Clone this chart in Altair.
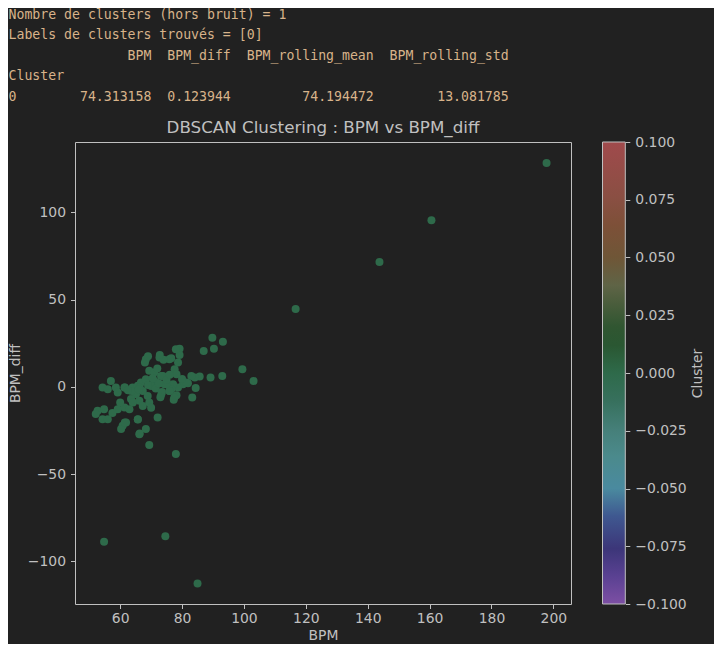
import altair as alt
import pandas as pd

# ---------------- data ----------------
CONSOLE_LINES = [
    "Nombre de clusters (hors bruit) = 1",
    "Labels de clusters trouvés = [0]",
    "               BPM  BPM_diff  BPM_rolling_mean  BPM_rolling_std",
    "Cluster",
    "0        74.313158  0.123944         74.194472        13.081785",
]

TITLE = "DBSCAN Clustering : BPM vs BPM_diff"

BPM = [
    197.8, 160.6, 143.8, 116.7, 74.6, 54.8, 85.0, 78.0,
    89.8, 93.2, 87.0, 90.3, 79.2, 79.2, 76.5, 78.7, 77.6, 78.2, 99.5, 103.1,
    93.0, 89.2, 85.7, 84.1, 83.0, 81.9, 80.3, 78.7, 77.1, 76.5, 84.4, 83.3,
    78.2, 77.3,
    54.3, 57.0, 56.0, 58.6, 59.2, 61.4, 64.0, 65.7, 66.7, 68.3, 67.3, 65.1,
    63.5, 66.2, 67.3, 69.4, 68.9, 68.3, 68.0, 72.7, 75.9, 78.0, 69.4, 71.0,
    73.2, 71.0, 74.3, 75.9, 77.5, 52.7, 52.1, 54.8, 54.3, 56.0, 59.2, 61.4,
    63.0, 65.7, 72.1, 60.8, 61.9, 60.3, 66.2, 68.3, 69.4,
    74.0, 72.8, 73.8, 74.9, 71.7, 61.5, 63.6, 66.3, 64.1, 73.3, 76.0, 81.4,
    65.7, 66.3, 61.5, 70.0, 71.5, 72.5, 73.5, 70.5, 72.0, 73.0, 69.0, 66.0,
    75.0, 76.0, 80.0, 62.5, 70.0, 69.0, 60.0, 57.5,
]
BPM_DIFF = [
    128.3, 95.6, 71.6, 44.7, -85.7, -88.8, -112.7, -38.5,
    28.2, 25.9, 20.6, 21.8, 21.9, 18.2, 16.4, 13.9, 10.1, 7.3, 10.1, 3.4,
    6.3, 5.3, 5.9, 5.3, 6.3, 2.1, 1.5, -0.4, 1.5, -1.3, -0.7, -6.1,
    -4.8, -7.4,
    -0.4, 3.4, -1.3, -0.4, -3.3, -0.4, -0.4, 0.6, 2.5, 4.4, -2.3, -4.2,
    -7.0, -8.0, -10.9, -9.0, -5.2, 15.9, 13.9, 16.8, 15.9, 21.6, 9.2, 8.2,
    6.3, 3.4, 1.5, -2.3, -6.1, -13.7, -15.6, -12.8, -18.5, -18.5, -12.8, -11.9,
    -12.8, -18.5, -17.6, -22.3, -20.4, -24.2, -27.1, -24.2, -33.4,
    15.5, 18.2, 6.3, 1.5, 2.5, -0.4, -2.3, -0.4, -9.0, -4.2, -2.3, 2.5,
    -18.7, -26.7, -20.4, 0.5, -1.0, 2.0, -3.0, 5.0, 10.5, -6.0, 1.0, -1.5,
    4.0, 7.0, 4.5, -2.0, -12.0, 17.5, -9.0, -15.0,
]
CLUSTER = [0] * len(BPM)

# colour map (colorbar from -0.1 to 0.1)
CBAR_MIN, CBAR_MAX = -0.1, 0.1
CBAR_TICKS = [-0.1, -0.075, -0.05, -0.025, 0.0, 0.025, 0.05, 0.075, 0.1]
CMAP_OFFSETS = [0.0, 0.06, 0.12, 0.19, 0.25, 0.32, 0.375, 0.44, 0.5,
                0.56, 0.6, 0.65, 0.69, 0.75, 0.82, 0.88, 1.0]
CMAP_COLORS = ["#7d4fa4", "#5a4192", "#3c3679", "#3f5890", "#4a8a9f",
               "#4b8a8c", "#46807a", "#37705d", "#2e6a4a", "#2a5732",
               "#305631", "#4a5d3c", "#5f6446", "#6f5637", "#7d5038",
               "#8a4f43", "#a04a4c"]

X_DOMAIN = [45.4, 205.7]
Y_DOMAIN = [-124.5, 140.4]
X_TICKS = [60, 80, 100, 120, 140, 160, 180, 200]
Y_TICKS = [-100, -50, 0, 50, 100]

# ---------------- styling ----------------
BG = "#212121"
FG = "#c0c0c0"
CONSOLE_COLOR = "#d8b38a"
FONT = "DejaVu Sans"
W, H = 496, 462

df = pd.DataFrame({"BPM": BPM, "BPM_diff": BPM_DIFF, "Cluster": CLUSTER})

cmap_domain = [CBAR_MIN + o * (CBAR_MAX - CBAR_MIN) for o in CMAP_OFFSETS]

points = alt.Chart(df).mark_circle(size=64, opacity=1).encode(
    x=alt.X("BPM:Q",
            scale=alt.Scale(domain=X_DOMAIN, nice=False, zero=False),
            axis=alt.Axis(values=X_TICKS, title="BPM", titleX=W / 2, titleY=31.5,
                          titleAlign="center", titleBaseline="middle",
                          labelPadding=3)),
    y=alt.Y("BPM_diff:Q",
            scale=alt.Scale(domain=Y_DOMAIN, nice=False, zero=False),
            axis=alt.Axis(values=Y_TICKS, title="BPM_diff", titleX=-59.5, titleY=H / 2,
                          titleAngle=270, titleAlign="center", titleBaseline="middle",
                          labelPadding=5)),
    color=alt.Color("Cluster:Q",
                    scale=alt.Scale(domain=cmap_domain, range=CMAP_COLORS, interpolate="rgb"),
                    legend=None),
)

cbar_df = pd.DataFrame({"lo": [CBAR_MIN], "hi": [CBAR_MAX]})
gradient = alt.LinearGradient(
    gradient="linear",
    stops=[alt.GradientStop(color=c, offset=o) for o, c in zip(CMAP_OFFSETS, CMAP_COLORS)],
    x1=0, x2=0, y1=1, y2=0,
)
cbar = alt.Chart(cbar_df).mark_rect(fill=gradient, stroke=FG, strokeWidth=1).encode(
    x=alt.value(527.5),
    x2=alt.value(550.3),
    y=alt.Y("lo:Q",
            scale=alt.Scale(domain=[CBAR_MIN, CBAR_MAX], nice=False, zero=False),
            axis=alt.Axis(orient="right", offset=54.3, values=CBAR_TICKS, format=".3f",
                          title="Cluster", titleX=72, titleY=H / 2, titleAngle=270,
                          titleAlign="center", titleBaseline="middle", labelPadding=5)),
    y2="hi:Q",
)

# leading zero-width space keeps Vega from trimming the alignment spaces
console_text = "\n".join("\u200b" + l.replace(" ", "\u00a0") for l in CONSOLE_LINES)
console_df = pd.DataFrame({"text": [console_text]})
console = alt.Chart(console_df).mark_text(
    align="left", baseline="top", font="DejaVu Sans Mono", fontSize=13.2,
    color=CONSOLE_COLOR, lineBreak="\n", lineHeight=20.6,
).encode(
    x=alt.value(-66.5),
    y=alt.value(-133.5),
    text="text:N",
)

title_df = pd.DataFrame({"title": [TITLE]})
title = alt.Chart(title_df).mark_text(
    align="center", baseline="middle", font=FONT, fontSize=16.7, color=FG,
).encode(
    x=alt.value(W / 2),
    y=alt.value(-14),
    text="title:N",
)

chart = alt.layer(points, cbar, console, title).resolve_scale(y="independent").properties(
    width=W,
    height=H,
    padding={"left": 67, "top": 134, "right": 143, "bottom": 40},
    autosize=alt.AutoSizeParams(type="none"),
    background=BG,
).configure_view(
    stroke=FG, strokeWidth=1,
).configure_axis(
    grid=False, domain=False,
    labelFont=FONT, labelFontSize=13.9, labelColor=FG,
    titleFont=FONT, titleFontSize=13.9, titleColor=FG, titleFontWeight="normal",
    tickColor=FG, tickSize=4.5, tickWidth=1,
)

chart.save("out.html", embed_options={"renderer": "svg", "actions": False})
